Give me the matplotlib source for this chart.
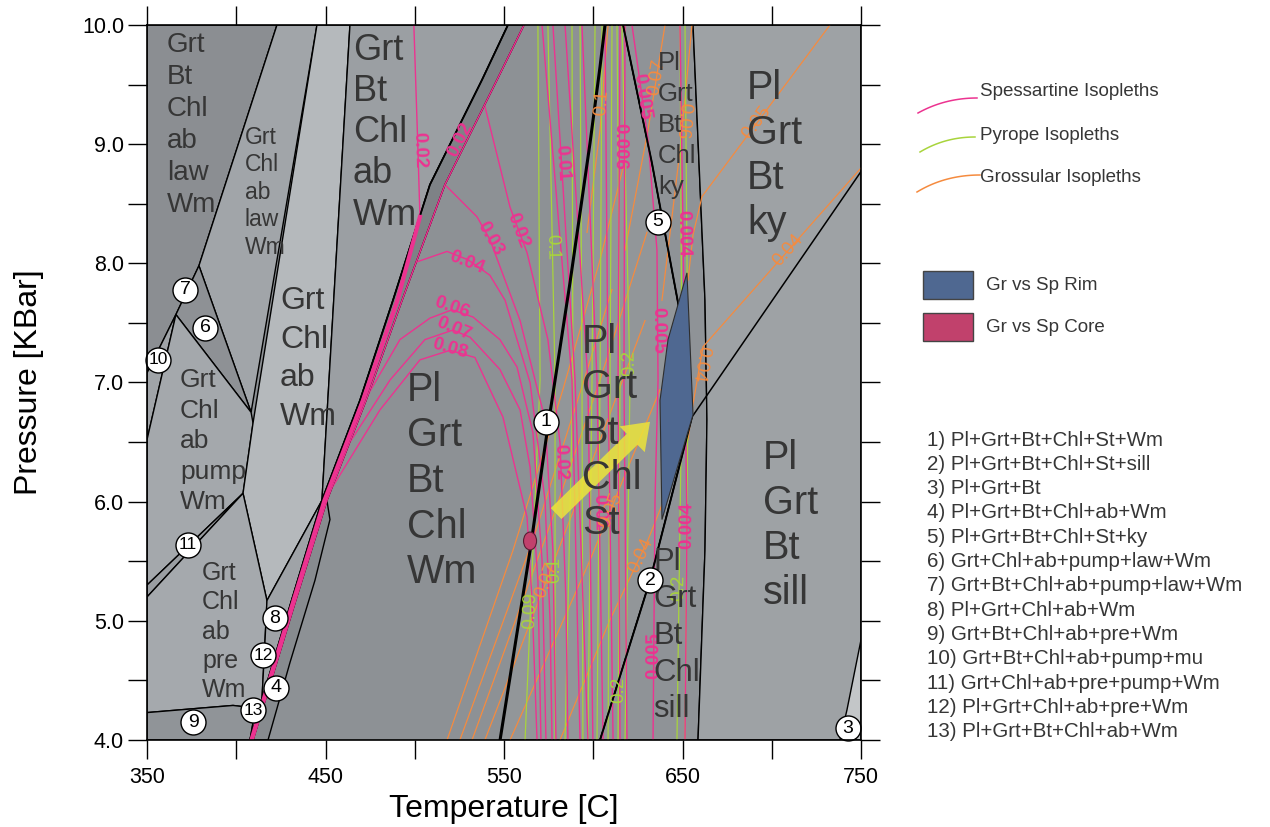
import numpy as np
import matplotlib
matplotlib.use('Agg')
import matplotlib.pyplot as plt
from matplotlib.patches import Polygon, Ellipse, FancyArrowPatch, Rectangle
from matplotlib.lines import Line2D

plt.rcParams['font.family'] = ['Liberation Sans', 'DejaVu Sans']

# ---------------- axis ranges / ticks ----------------
T_RANGE = (350, 750)
P_RANGE = (4.0, 10.0)
X_TICKS = [350, 400, 450, 500, 550, 600, 650, 700, 750]
X_TICK_LABELS = ['350', '', '450', '', '550', '', '650', '', '750']
Y_TICKS = [4.0, 4.5, 5.0, 5.5, 6.0, 6.5, 7.0, 7.5, 8.0, 8.5, 9.0, 9.5, 10.0]
Y_TICK_LABELS = ['4.0', '', '5.0', '', '6.0', '', '7.0', '', '8.0', '', '9.0', '', '10.0']

# ---------------- phase boundaries (T [C], P [kbar]) ----------------
line_left = [(552.2, 10), (537.7, 9.54), (508.5, 8.66), (487.8, 7.69), (469.3, 6.85), (448.0, 6.01),
             (431.2, 5.18), (407.7, 4.0)]
line_right = [(561.2, 10), (546.1, 9.54), (516.9, 8.66), (492.9, 7.69), (472.7, 6.85), (450.8, 6.01),
              (433.5, 5.18), (409.4, 4.0)]
line_kysill = [(655.3, 6.71), (750, 8.77)]
line_st_left = [(547.8, 4.0), (564.6, 5.59), (574.1, 6.58), (587.0, 7.84), (598.2, 9.01), (603.8, 9.65), (606.6, 10)]
line_st_right = [(616.7, 10), (632.9, 8.84), (647.5, 7.67), (655.3, 6.71), (631.8, 5.34), (603.8, 4.0)]

# ---------------- phase fields ----------------
field_TL = [(350, 10), (422.8, 10), (379.1, 7.98), (366.2, 7.57), (350, 7.08)]
field_law = [(422.8, 10), (445.2, 10), (408.3, 6.75), (379.1, 7.98)]
field_6 = [(379.1, 7.98), (408.3, 6.75), (366.2, 7.57)]
field_10 = [(366.2, 7.57), (350, 7.08), (350, 6.52)]
field_pump = [(366.2, 7.57), (408.3, 6.75), (409.4, 6.66), (403.8, 6.07), (350, 5.30), (350, 6.52)]
field_11 = [(403.8, 6.07), (350, 5.30), (350, 5.20)]
field_light = [(445.2, 10), (463.7, 10), (448.0, 6.01), (417.2, 5.17), (403.8, 6.07), (409.4, 6.66)]
field_pre = [(350, 5.20), (403.8, 6.07), (417.2, 5.17), (416.1, 4.83), (414.4, 4.34), (410.5, 4.24),
             (403.8, 4.28), (398.2, 4.29), (350, 4.23)]
field_9 = [(350, 4.23), (398.2, 4.29), (403.8, 4.28), (410.5, 4.24), (407.7, 4.0), (350, 4.0)]
field_8 = [(417.2, 5.17), (448.0, 6.01), (431.2, 5.18), (407.7, 4.0), (410.5, 4.24), (414.4, 4.34), (416.1, 4.83)]
field_gbcaw = [(463.7, 10), (552.2, 10), (537.7, 9.54), (508.5, 8.66), (487.8, 7.69), (469.3, 6.85), (448.0, 6.01)]
field_strip = line_left + line_right[::-1]
field_4 = [(409.4, 4.0), (433.5, 5.18), (450.8, 6.01), (452.5, 5.85), (444.1, 5.34), (430.1, 4.65), (417.8, 4.0)]
field_st = line_st_left + line_st_right
field_chl = [(616.7, 10), (655.9, 10), (662.6, 7.69), (663.7, 6.69), (662.6, 5.59), (658.7, 4.0), (603.8, 4.0),
             (631.8, 5.34), (655.3, 6.71), (647.5, 7.67), (632.9, 8.84)]
field_right = [(655.9, 10), (750, 10), (750, 4.0), (658.7, 4.0), (662.6, 5.59), (663.7, 6.69), (662.6, 7.69)]
field_3 = [(750, 4.84), (742.1, 4.25), (738.2, 4.0), (750, 4.0)]

FIELDS = [
    (field_TL, '#8b8e92'), (field_law, '#a1a5a9'), (field_6, '#8e9195'), (field_10, '#a0a4a8'),
    (field_pump, '#a4a8ac'), (field_11, '#9a9ea2'), (field_light, '#b5b9bc'), (field_pre, '#a5a9ad'),
    (field_9, '#909498'), (field_8, '#9fa3a7'), (field_gbcaw, '#9b9fa3'), (field_strip, '#7e8286'),
    (field_4, '#878b8f'), (field_st, '#929699'), (field_chl, '#8f9397'), (field_right, '#9ea2a5'),
    (field_3, '#c3c6c8'),
]
BASE_FIELD_COLOR = '#8d9195'

# ---------------- isopleths ----------------
# spessartine
sp_bound_thick = [(502.9, 8.39), (490.3, 7.69), (471.0, 6.85), (449.4, 6.01), (432.3, 5.18), (408.5, 4.0)]
sp_002_top = [(499.5, 10), (501.8, 8.95), (502.9, 8.39)]
sp_002 = [(539.1, 9.33), (553.4, 8.47), (562.9, 8.09), (574.6, 7.36), (581.4, 6.49), (584.7, 5.18), (585.8, 4.0)]
sp_003 = [(516.9, 8.66), (534.9, 8.39), (542.1, 8.20), (559.0, 7.52), (573.0, 6.69), (577.4, 5.59), (579.1, 4.0)]
sp_004 = [(500.8, 8.01), (518.1, 8.10), (529.8, 8.03), (542.1, 7.90), (550.6, 7.69), (564.6, 7.0),
          (573.0, 6.01), (575.8, 5.0), (576.9, 4.0)]
sp_006 = [(473.9, 6.90), (491.7, 7.36), (508.5, 7.54), (520.9, 7.61), (532.6, 7.55), (547.7, 7.36),
          (557.3, 7.13), (566.2, 6.58), (571.3, 5.51), (573.5, 4.0)]
sp_007 = [(463.3, 6.49), (486.1, 7.02), (505.7, 7.36), (521.4, 7.44), (531.0, 7.38), (547.7, 7.11),
          (559.0, 6.77), (564.6, 6.29), (569.0, 5.34), (570.7, 4.0)]
sp_008 = [(453.4, 6.11), (480.5, 6.77), (502.9, 7.19), (519.7, 7.27), (533.7, 7.21), (549.4, 6.71),
          (562.9, 5.87), (565.7, 5.18), (568.5, 4.0)]
sp_q1 = [(571.3, 10), (588.1, 7.02), (592.6, 4.0)]
sp_q2 = [(577.4, 10), (589.8, 7.02), (597.0, 4.0)]
sp_q3 = [(584.2, 10), (597.0, 7.02), (599.8, 4.0)]
sp_q4 = [(593.7, 10), (602.1, 7.02), (605.5, 4.0)]
sp_q5 = [(606.6, 10), (608.3, 7.02), (611.1, 4.0)]
sp_q6 = [(615.0, 10), (613.9, 7.02), (615.0, 4.0)]
sp_q6b = [(617.8, 10), (617.2, 7.02), (618.9, 4.0)]
sp_q7 = [(621.7, 10), (630.7, 9.04), (635.7, 8.11), (636.3, 7.02), (634.6, 6.01), (633.5, 4.0)]
sp_q9 = [(648.6, 10), (650.3, 8.25), (652.5, 5.80), (651.4, 4.0)]
SPESSARTINE = {'bt': line_right, 's0': sp_002_top, 'a': sp_002, 'b': sp_003, 'c': sp_004, 'd': sp_006,
               'e': sp_007, 'f': sp_008, 'q1': sp_q1, 'q2': sp_q2, 'q3': sp_q3, 'q4': sp_q4, 'q5': sp_q5,
               'q6': sp_q6, 'q6b': sp_q6b, 'q7': sp_q7, 'q9': sp_q9}

# pyrope
py_h1 = [(569.0, 10), (570.2, 7.02), (561.8, 4.0)]
py_h2 = [(574.6, 10), (578.6, 7.02), (578.6, 4.0)]
py_h3 = [(588.1, 10), (588.6, 7.02), (584.2, 4.0)]
py_h4 = [(592.6, 10), (593.7, 7.02), (594.2, 4.0)]
py_h5 = [(601.0, 10), (599.3, 7.02), (597.0, 4.0)]
py_h6 = [(604.9, 10), (603.8, 7.02), (602.1, 4.0)]
py_h7 = [(610.5, 10), (609.4, 7.02), (608.3, 4.0)]
py_h8 = [(613.3, 10), (615.0, 7.02), (613.9, 4.0)]
py_h9 = [(616.1, 10), (620.6, 7.02), (617.8, 4.0)]
py_h10 = [(648.6, 10), (649.7, 7.02), (646.9, 4.0)]
py_h11 = [(651.4, 10), (653.1, 7.02), (651.4, 4.0)]
PYROPE = {'h1': py_h1, 'h2': py_h2, 'h3': py_h3, 'h4': py_h4, 'h5': py_h5, 'h6': py_h6, 'h7': py_h7,
          'h8': py_h8, 'h9': py_h9, 'h10': py_h10, 'h11': py_h11}

# grossular
gr_o1 = [(518.1, 4.0), (555.0, 5.59), (583.0, 6.94), (603.8, 8.03), (617.8, 8.87)]
gr_o2 = [(525.3, 4.0), (566.2, 5.68), (594.2, 6.99), (610.5, 7.78)]
gr_o3 = [(532.1, 4.0), (576.9, 5.85), (603.8, 7.02), (630.1, 8.26)]
gr_o4 = [(539.3, 4.0), (587.0, 5.85), (612.2, 6.85), (629.0, 7.52)]
gr_o5 = [(553.4, 4.0), (598.2, 5.51), (623.4, 6.43), (637.4, 6.94)]
gr_o6 = [(581.4, 4.0), (609.4, 5.01), (630.7, 5.68), (641.9, 6.10)]
gr_t1 = [(596.5, 8.26), (603.8, 9.12), (608.3, 10)]
gr_t2 = [(617.8, 8.11), (630.7, 9.12), (640.2, 10)]
gr_t3 = [(638.5, 7.69), (648.6, 8.95), (655.3, 10)]
gr_t4 = [(653.1, 7.86), (655.9, 8.24), (660.9, 8.56), (732.6, 10)]
gr_t5 = [(653.1, 6.52), (655.3, 6.77), (661.5, 7.30), (750, 8.80)]
GROSSULAR = {'o1': gr_o1, 'o2': gr_o2, 'o3': gr_o3, 'o4': gr_o4, 'o5': gr_o5, 'o6': gr_o6,
             't1': gr_t1, 't2': gr_t2, 't3': gr_t3, 't4': gr_t4, 't5': gr_t5}

# isopleth labels: (line key, T, P, text, reading direction)
SP_LABELS = [('bt', 525.3, 9.04, '0.02', 'up'), ('s0', 502.3, 8.95, '0.02', 'down'),
             ('a', 557.8, 8.28, '0.02', 'down'), ('b', 542.1, 8.21, '0.03', 'down'),
             ('c', 529.3, 8.01, '0.04', 'down'), ('d', 520.9, 7.63, '0.06', 'auto'),
             ('e', 522.0, 7.45, '0.07', 'auto'), ('f', 519.7, 7.28, '0.08', 'auto'),
             ('a', 581.8, 6.33, '0.02', 'down'), ('q2', 582.2, 8.84, '0.01', 'down'),
             ('q6', 614.6, 8.98, '0.006', 'down'), ('q7', 627.3, 9.40, '0.005', 'down'),
             ('q7', 636.2, 7.44, '0.005', 'down'), ('q9', 650.3, 8.25, '0.004', 'down'),
             ('q4', 603.4, 5.91, '0.01', 'down'), ('q7', 633.9, 4.71, '0.005', 'up'),
             ('q9', 652.4, 5.80, '0.004', 'up')]
PY_LABELS = [('h2', 577.1, 8.14, '0.1', 'down'), ('h1', 564.8, 5.09, '0.09', 'up'),
             ('h9', 620.4, 7.16, '0.2', 'up'), ('h8', 614.1, 4.42, '0.2', 'up'),
             ('h10', 648.1, 5.28, '0.2', 'up'), ('h2', 578.6, 5.43, '0.1', 'up')]
GR_LABELS = [('t1', 605.0, 9.35, '0.1', 'up'), ('t2', 635.5, 9.56, '0.07', 'up'),
             ('t3', 650.2, 9.20, '0.06', 'down'), ('t4', 691.8, 9.18, '0.05', 'up'),
             ('t5', 709.3, 8.11, '0.04', 'up'), ('t5', 659.9, 7.16, '0.04', 'down'),
             ('o6', 626.6, 5.55, '0.04', 'up'), ('o4', 573.9, 5.34, '0.07', 'up'),
             ('o5', 609.7, 5.93, '0.05', 'up')]

# measured garnet compositions
rim_polygon = [(652.5, 7.92), (655.9, 6.73), (638.5, 5.85), (637.4, 6.85), (641.9, 7.36)]
core_center = (564.6, 5.67)
core_size = (7.3, 0.15)
arrow_tail = (579.2, 5.90)
arrow_head = (631.8, 6.67)

# field labels: words, T (left), P (first line), line step [kbar], font size
FIELD_LABELS = [
    (['Grt', 'Bt', 'Chl', 'ab', 'law', 'Wm'], 361.2, 9.83, 0.2685, 20),
    (['Grt', 'Chl', 'ab', 'law', 'Wm'], 404.9, 9.06, 0.2308, 16.5),
    (['Grt', 'Bt', 'Chl', 'ab', 'Wm'], 465.4, 9.79, 0.3466, 26),
    (['Grt', 'Chl', 'ab', 'Wm'], 424.5, 7.68, 0.323, 23),
    (['Grt', 'Chl', 'ab', 'pump', 'Wm'], 368.5, 7.02, 0.256, 19),
    (['Grt', 'Chl', 'ab', 'pre', 'Wm'], 380.8, 5.40, 0.246, 18),
    (['Pl', 'Grt', 'Bt', 'Chl', 'Wm'], 495.7, 6.94, 0.383, 28.5),
    (['Pl', 'Grt', 'Bt', 'Chl', 'St'], 593.7, 7.34, 0.380, 28.5),
    (['Pl', 'Grt', 'Bt', 'Chl', 'ky'], 636.3, 9.68, 0.260, 18.5),
    (['Pl', 'Grt', 'Bt', 'ky'], 686.1, 9.47, 0.3776, 28.5),
    (['Pl', 'Grt', 'Bt', 'Chl', 'sill'], 633.5, 5.49, 0.308, 22.4),
    (['Pl', 'Grt', 'Bt', 'sill'], 695.1, 6.37, 0.380, 28.5),
]

# numbered small fields
NUM_T = [573.5, 631.8, 742.7, 422.3, 636.3, 382.5, 371.3, 421.7, 375.8, 356.2, 373.0, 415.0, 409.4]
NUM_P = [6.67, 5.34, 4.10, 4.44, 8.35, 7.46, 7.78, 5.02, 4.15, 7.19, 5.64, 4.71, 4.25]
NUM_TEXT = ['1', '2', '3', '4', '5', '6', '7', '8', '9', '10', '11', '12', '13']

ASSEMBLAGES = ['1) Pl+Grt+Bt+Chl+St+Wm', '2) Pl+Grt+Bt+Chl+St+sill', '3) Pl+Grt+Bt',
               '4) Pl+Grt+Bt+Chl+ab+Wm', '5) Pl+Grt+Bt+Chl+St+ky', '6) Grt+Chl+ab+pump+law+Wm',
               '7) Grt+Bt+Chl+ab+pump+law+Wm', '8) Pl+Grt+Chl+ab+Wm', '9) Grt+Bt+Chl+ab+pre+Wm',
               '10) Grt+Bt+Chl+ab+pump+mu', '11) Grt+Chl+ab+pre+pump+Wm', '12) Pl+Grt+Chl+ab+pre+Wm',
               '13) Pl+Grt+Bt+Chl+ab+Wm']

ISO_NAMES = ['Spessartine Isopleths', 'Pyrope Isopleths', 'Grossular Isopleths']
SP_COLOR = '#ec3390'
PY_COLOR = '#a8d43c'
GR_COLOR = '#f58b3f'
RIM_COLOR = '#4f6891'
CORE_COLOR = '#c1416c'
TEXT_COLOR = '#363636'

# ---------------- figure ----------------
W, H = 1270, 827
fig = plt.figure(figsize=(W / 100, H / 100), dpi=100)
fig.patch.set_facecolor('white')
ax = fig.add_axes([147 / W, 1 - 740 / H, (861 - 147) / W, (740 - 25) / H])
ax.set_xlim(*T_RANGE)
ax.set_ylim(*P_RANGE)
ax.set_facecolor(BASE_FIELD_COLOR)

for poly, col in FIELDS:
    ax.add_patch(Polygon(poly, closed=True, facecolor=col, edgecolor='black', lw=1.0, zorder=1))


def draw(line, **kw):
    a = np.array(line)
    ax.plot(a[:, 0], a[:, 1], **kw)


# isopleths
for ln in GROSSULAR.values():
    draw(ln, color=GR_COLOR, lw=0.9, zorder=3)
for ln in PYROPE.values():
    draw(ln, color=PY_COLOR, lw=0.9, zorder=3)
for ln in SPESSARTINE.values():
    draw(ln, color=SP_COLOR, lw=1.0, zorder=3)

# boundaries on top
draw(line_kysill, color='black', lw=1.1, zorder=4)
draw(line_st_left, color='black', lw=2.2, zorder=4)
draw(line_st_right, color='black', lw=1.4, zorder=4)
draw(line_left, color='black', lw=1.3, zorder=4)
draw(line_right, color='black', lw=0.9, zorder=4)
draw(line_right, color=SP_COLOR, lw=1.0, zorder=4.2)
draw(sp_bound_thick, color=SP_COLOR, lw=3.0, zorder=4.5)


def label_on(line, T, P, text, mode, color, weight):
    d = ax.transData.transform(np.array(line))
    q = ax.transData.transform((T, P))
    best, bi = 1e18, 0
    for i in range(len(d) - 1):
        m = (d[i] + d[i + 1]) / 2
        dist = np.hypot(*(m - q))
        if dist < best:
            best, bi = dist, i
    v = d[bi + 1] - d[bi]
    ang = np.degrees(np.arctan2(v[1], v[0]))
    if mode == 'up':
        ang = ang % 360
        if ang >= 180:
            ang -= 180
    elif mode == 'down':
        ang = ang % 360
        if ang < 180:
            ang += 180
        ang -= 360
    else:
        ang = (ang + 90) % 180 - 90
    ax.text(T, P, text, rotation=ang, rotation_mode='anchor', ha='center', va='center',
            fontsize=13.5, color=color, fontweight=weight, zorder=5)


for k, T, P, t, m in SP_LABELS:
    label_on(SPESSARTINE[k], T, P, t, m, SP_COLOR, 'bold')
for k, T, P, t, m in PY_LABELS:
    label_on(PYROPE[k], T, P, t, m, PY_COLOR, 'normal')
for k, T, P, t, m in GR_LABELS:
    label_on(GROSSULAR[k], T, P, t, m, GR_COLOR, 'normal')

# rim / core
ax.add_patch(Polygon(rim_polygon, closed=True, facecolor=RIM_COLOR, edgecolor='#2e2e2e', lw=0.8, zorder=6))
ax.add_patch(Ellipse(core_center, core_size[0], core_size[1], facecolor=CORE_COLOR,
                     edgecolor='#5a1d33', lw=0.8, zorder=6))

# arrow
ax.add_patch(FancyArrowPatch(arrow_tail, arrow_head,
                             arrowstyle='simple,head_length=1.8,head_width=2.6,tail_width=1.1',
                             mutation_scale=10, color='#ece43a', alpha=0.85, lw=0, zorder=7,
                             shrinkA=0, shrinkB=0))

# field names
for words, T, P0, step, fs in FIELD_LABELS:
    for i, w in enumerate(words):
        ax.text(T, P0 - i * step, w, fontsize=fs, color=TEXT_COLOR, ha='left', va='center', zorder=8)

# numbered circles
ax.plot(NUM_T, NUM_P, 'o', ms=18, mfc='white', mec='black', mew=1.0, zorder=9, clip_on=False)
for T, P, t in zip(NUM_T, NUM_P, NUM_TEXT):
    ax.text(T, P, t, fontsize=14 if len(t) == 1 else 12.5, ha='center', va='center', color='black', zorder=10)

# axes styling
ax.set_xticks(X_TICKS)
ax.set_xticklabels(X_TICK_LABELS)
ax.set_yticks(Y_TICKS)
ax.set_yticklabels(Y_TICK_LABELS)
ax.tick_params(direction='out', length=13.5, width=1.0, top=True, right=True, labelsize=15.5, colors='black')
ax.tick_params(axis='x', pad=6)
ax.tick_params(axis='y', pad=3)
for s in ax.spines.values():
    s.set_linewidth(1.2)
    s.set_zorder(11)
ax.set_xlabel('Temperature [C]', fontsize=23, labelpad=4)
ax.set_ylabel('Pressure [KBar]', fontsize=23, labelpad=27)


# ---------------- right-hand legend ----------------
def fxy(x, y):
    return x / W, 1 - y / H


def curve(p0, p1, p2, n=30):
    t = np.linspace(0, 1, n)[:, None]
    pts = (1 - t) ** 2 * np.array(p0) + 2 * (1 - t) * t * np.array(p1) + t ** 2 * np.array(p2)
    return [fxy(x, y) for x, y in pts]


legend_curves = [((918, 113), (945, 98), (977, 98)), ((920, 152), (945, 137), (975, 137)),
                 ((917, 192), (945, 175), (980, 175))]
legend_y = [92, 135, 178]
for (p0, p1, p2), col, name, yy in zip(legend_curves, [SP_COLOR, PY_COLOR, GR_COLOR], ISO_NAMES, legend_y):
    c = np.array(curve(p0, p1, p2))
    fig.add_artist(Line2D(c[:, 0], c[:, 1], color=col, lw=1.1, transform=fig.transFigure))
    fig.text(*fxy(980, yy), name, fontsize=13.5, color=TEXT_COLOR, ha='left', va='center')

for (y0, col, name) in [(271, RIM_COLOR, 'Gr vs Sp Rim'), (313, CORE_COLOR, 'Gr vs Sp Core')]:
    x0, y1 = fxy(923, y0 + 28)
    fig.add_artist(Rectangle((x0, y1), 50 / W, 28 / H, transform=fig.transFigure,
                             facecolor=col, edgecolor='#444444', lw=1.0))
    fig.text(*fxy(986, y0 + 15), name, fontsize=13.5, color=TEXT_COLOR, ha='left', va='center')

for i, s in enumerate(ASSEMBLAGES):
    fig.text(*fxy(927, 440 + i * 24.33), s, fontsize=14.8, color=TEXT_COLOR, ha='left', va='center')

fig.savefig('out.png', dpi=100)
